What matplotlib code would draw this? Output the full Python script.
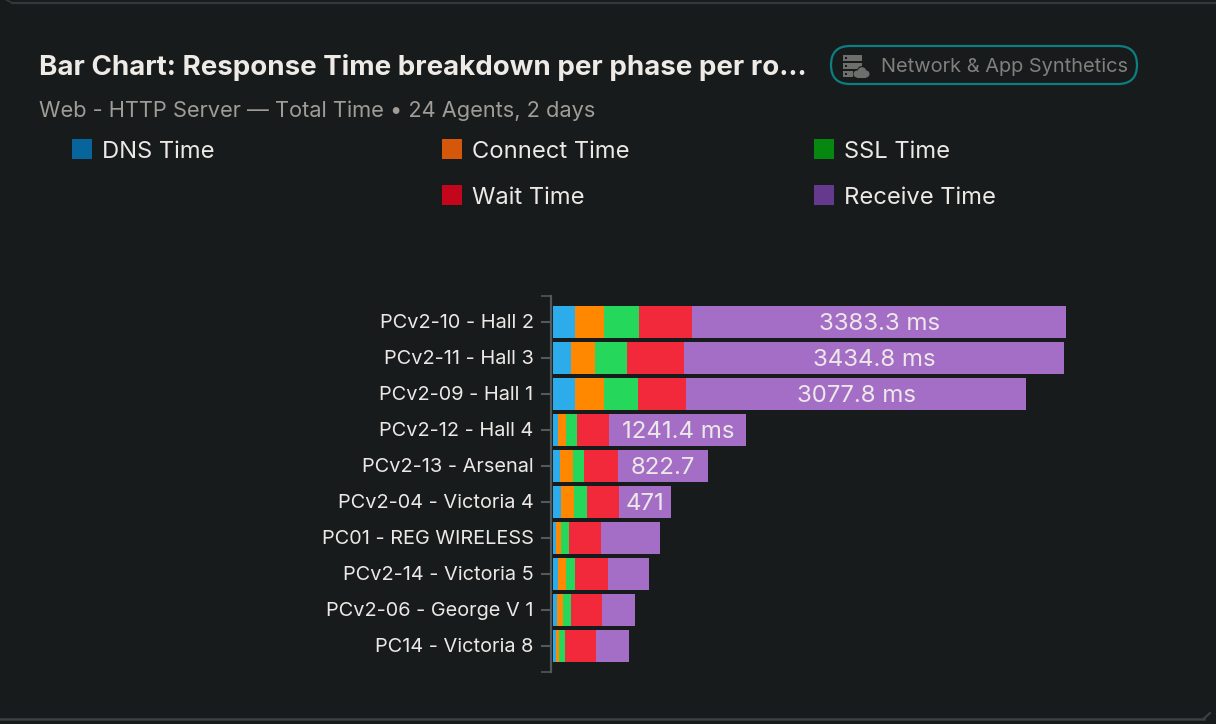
import matplotlib
matplotlib.use("Agg")
import matplotlib.pyplot as plt
from matplotlib.patches import FancyBboxPatch, Rectangle, Circle
from matplotlib.transforms import ScaledTranslation

plt.rcParams['font.family'] = ['Inter', 'DejaVu Sans']

# ---- data ----
agents = ["PCv2-10 - Hall 2", "PCv2-11 - Hall 3", "PCv2-09 - Hall 1", "PCv2-12 - Hall 4",
          "PCv2-13 - Arsenal", "PCv2-04 - Victoria 4", "PC01 - REG WIRELESS",
          "PCv2-14 - Victoria 5", "PCv2-06 - George V 1", "PC14 - Victoria 8"]
series_names = ["DNS Time", "Connect Time", "SSL Time", "Wait Time", "Receive Time"]
dns_time = [205, 169, 205, 51, 66, 81, 36, 51, 42, 30]
connect_time = [260, 214, 260, 69, 118, 118, 42, 69, 51, 30]
ssl_time = [320, 287, 305, 106, 103, 109, 69, 81, 72, 51]
wait_time = [480, 522, 440, 287, 302, 296, 293, 299, 283, 281]
receive_time = [3383.3, 3434.8, 3077.8, 1241.4, 822.7, 471, 537, 374, 296, 301]
receive_labels = ["3383.3 ms", "3434.8 ms", "3077.8 ms", "1241.4 ms", "822.7", "471", "", "", "", ""]

all_series = [dns_time, connect_time, ssl_time, wait_time, receive_time]
bar_colors = ["#2caceb", "#ff8800", "#25d85c", "#f2293a", "#a56ec6"]
legend_colors = ["#07659c", "#d4570a", "#06870f", "#c4061d", "#653a8e"]
legend_pos = [(72, 149), (442, 149), (814, 149), (442, 195), (814, 195)]

BG = "#171b1c"
W, H = 1216, 724
fig = plt.figure(figsize=(W / 100, H / 100), dpi=100, facecolor=BG)

# overlay in pixel coordinates for the card furniture
ov = fig.add_axes([0, 0, 1, 1], zorder=3)
ov.set_xlim(0, W); ov.set_ylim(H, 0); ov.axis("off")

# chart axes: x starts near px 553, scale 0.1105 px/ms, bands of 36 px
left, right, top, bottom = 552.5, 1200, 296, 672
ax = fig.add_axes([left / W, 1 - bottom / H, (right - left) / W, (bottom - top) / H], zorder=2)
ax.set_facecolor("none")
# set_position resets the axis, so it has to come before the tick styling
ax.spines["left"].set_position(("outward", 0.8))
ax.spines["left"].set_color("#55585a")
ax.spines["left"].set_linewidth(1.6)
for s in ["top", "right", "bottom"]:
    ax.spines[s].set_visible(False)

ax.set_xlim(0, (right - left) / 0.1105)
pad = 26 / 36
ax.set_ylim(len(agents) - 1 + pad, -pad)

lefts = [0.0] * len(agents)
for vals, col in zip(all_series, bar_colors):
    ax.barh(range(len(agents)), vals, left=lefts, height=32 / 36, color=col, linewidth=0)
    lefts = [a + b for a, b in zip(lefts, vals)]

for i, lab in enumerate(receive_labels):
    if lab:
        x = lefts[i] - receive_time[i] / 2
        ax.text(x, i + 0.045, lab, color="#ece8e8", fontsize=17.3, ha="center", va="center")

ax.set_yticks(range(len(agents)))
ax.set_yticklabels(agents, color="#ece8e6", fontsize=14.35)
ax.tick_params(axis="y", length=7.5, width=1.5, color="#55585a", pad=5.3)
for t in ax.get_yticklabels():
    t.set_transform(t.get_transform() + ScaledTranslation(0, 1 / 100, fig.dpi_scale_trans))
ax.xaxis.set_visible(False)
# bracket ends of the axis domain
ov.plot([541, 552], [296, 296], color="#55585a", lw=1.2, solid_capstyle="butt")
ov.plot([541, 552], [671.5, 671.5], color="#55585a", lw=1.2, solid_capstyle="butt")

# title, subtitle
ov.text(39, 67.5, "Bar Chart: Response Time breakdown per phase per ro...", color="#eeeae6",
        fontsize=19.97, fontweight="bold", va="center", ha="left")
ov.text(39, 111, "Web - HTTP Server \u2014 Total Time \u2022 24 Agents, 2 days", color="#a09c96",
        fontsize=15.7, va="center", ha="left")

# legend
for name, col, (x, y) in zip(series_names, legend_colors, legend_pos):
    ov.add_patch(Rectangle((x, y - 10), 20, 20, color=col, lw=0))
    ov.text(x + 30.5, y + 3, name, color="#ece8e6", fontsize=17.1, va="center", ha="left")

# badge
ov.add_patch(FancyBboxPatch((850, 65), 268, 0, boxstyle="round,pad=19,rounding_size=19",
                            fc="none", ec="#0b7f82", lw=1.6))
ov.text(881, 67, "Network & App Synthetics", color="#80807c", fontsize=14.4, va="center", ha="left")
icon = "#6e6e6c"
ov.add_patch(Rectangle((843, 55), 19, 6, color=icon, lw=0))
ov.add_patch(Rectangle((843, 63), 19, 6, color=icon, lw=0))
ov.add_patch(Rectangle((843, 71), 10, 6, color=icon, lw=0))
for yy in (57, 65, 73):
    ov.add_patch(Rectangle((845, yy), 2, 2, color=BG, lw=0))
ov.add_patch(Circle((862, 71), 5, color=BG, lw=0))
ov.add_patch(Circle((862, 71.5), 4.3, color=icon, lw=0))
ov.add_patch(Circle((857, 74), 3.5, color=icon, lw=0))
ov.add_patch(Circle((866, 74), 3.5, color=icon, lw=0))
ov.add_patch(Rectangle((857, 73), 9, 4.5, color=icon, lw=0))

# card border
card = "#33383a"
ov.plot([12, 1216], [3, 3], color=card, lw=1.6)
ov.plot([5, 12], [-1, 3], color=card, lw=1.2)
ov.plot([0, 1204], [718.5, 718.5], color="#3c4042", lw=1.8)
ov.plot([1204, 1210], [718.5, 713], color="#3c4042", lw=1.5)

fig.savefig("out.png", dpi=100, facecolor=BG)
